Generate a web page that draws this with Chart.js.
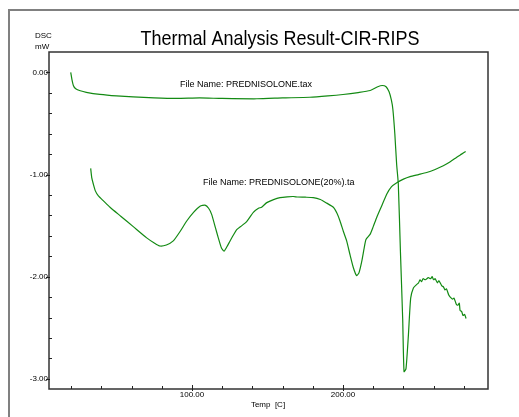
<!DOCTYPE html>
<html lang="en">
<head>
<meta charset="UTF-8">
<title>Thermal Analysis Result-CIR-RIPS</title>
<script src="https://cdn.jsdelivr.net/npm/chart.js"></script>
<style>
  html, body { margin: 0; padding: 0; background: #fff; }
  .wrap { position: relative; width: 519px; height: 417px; }
</style>
</head>
<body>
<div class="wrap"><canvas id="dsc"></canvas></div>
<script>
// PREDNISOLONE.tax
const tempA = [19.7, 20.5, 21.5, 23, 26, 30, 39, 50, 61, 75, 90, 105, 120, 143, 160, 178, 190, 200, 210, 218,
  223, 226, 228.5, 230.5, 232, 233, 234.3, 235.5, 236.6, 238, 239.5, 240.4, 241.7, 243.3, 244.8, 246.6, 248.5,
  250, 251, 252, 253, 254.5, 256.5, 258, 259, 260, 261, 262.5, 263.5, 265.4, 266.5, 267.5, 268.5, 270, 271,
  272.5, 273.5, 275, 276, 277, 277.5, 278.5, 279.5, 280.5, 281.5];
const dscA = [0.00, -0.07, -0.13, -0.16, -0.18, -0.195, -0.215, -0.23, -0.24, -0.25, -0.255, -0.25, -0.255, -0.258,
  -0.25, -0.243, -0.23, -0.216, -0.197, -0.177, -0.14, -0.128, -0.14, -0.19, -0.27, -0.36, -0.6, -0.9, -1.09,
  -1.75, -2.41, -2.93, -2.9, -2.57, -2.21, -2.11, -2.08, -2.06, -2.03, -2.05, -2.02, -2.03, -2.01, -2.02, -2.0,
  -2.03, -2.02, -2.06, -2.04, -2.09, -2.1, -2.13, -2.12, -2.18, -2.2, -2.22, -2.21, -2.27, -2.28, -2.26, -2.33,
  -2.34, -2.38, -2.37, -2.41];

// PREDNISOLONE(20%).ta
const tempB = [32.9, 33.6, 34.6, 36, 38, 41.5, 45.7, 53, 61.1, 70, 75, 78.8, 83, 87.6, 92, 96.5, 101, 105.3, 108.6,
  111, 113, 115.5, 117.4, 119.5, 121.2, 123, 125.2, 127.5, 129.6, 133, 136.2, 140.6, 144, 146.1, 149.5, 154,
  158.3, 163, 167.1, 170, 175, 180.3, 185, 189.2, 193.6, 196, 198, 200.3, 202.4, 204.7, 206.8, 209, 210.6,
  212.4, 214, 215.2, 217.9, 220, 222.3, 225.5, 229, 232, 235.6, 240, 244.4, 250, 255.4, 261, 266.4, 271,
  275.3, 278.5, 281.2];
const dscB = [-0.94, -1.03, -1.09, -1.16, -1.21, -1.26, -1.32, -1.41, -1.51, -1.62, -1.67, -1.70, -1.69, -1.65,
  -1.56, -1.455, -1.37, -1.31, -1.30, -1.33, -1.39, -1.52, -1.62, -1.72, -1.75, -1.71, -1.65, -1.59, -1.54,
  -1.50, -1.46, -1.37, -1.33, -1.32, -1.275, -1.245, -1.226, -1.218, -1.215, -1.22, -1.222, -1.226, -1.245,
  -1.28, -1.32, -1.38, -1.455, -1.56, -1.65, -1.79, -1.91, -1.99, -1.96, -1.85, -1.72, -1.635, -1.586, -1.51,
  -1.42, -1.31, -1.19, -1.12, -1.08, -1.045, -1.02, -1.00, -0.98, -0.95, -0.914, -0.875, -0.83, -0.80, -0.774];

const fileNames = ['File Name: PREDNISOLONE.tax', 'File Name: PREDNISOLONE(20%).ta'];
const xTicks = [20, 40, 60, 80, 100, 120, 140, 160, 180, 200, 220, 240, 260, 280];
const yTicks = [-3.0, -2.8, -2.6, -2.4, -2.2, -2.0, -1.8, -1.6, -1.4, -1.2, -1.0, -0.8, -0.6, -0.4, -0.2, 0.0, 0.2];

const FONT = '"Liberation Sans", Arial, sans-serif';
const GREEN = '#138a13';

const toPts = (xs, ys) => xs.map((x, i) => ({ x: x, y: ys[i] }));
const isMajor = v => Math.abs(v - Math.round(v)) < 1e-6;

// frame, title, text labels, tick marks
const decor = {
  id: 'decor',
  beforeDraw(chart) {
    const c = chart.ctx;
    c.save();
    c.fillStyle = '#fff';
    c.fillRect(0, 0, chart.width, chart.height);
    c.strokeStyle = '#808080';
    c.lineWidth = 2;
    c.beginPath();
    c.moveTo(chart.width, 10);
    c.lineTo(9, 10);
    c.lineTo(9, chart.height);
    c.stroke();
    c.restore();
  },
  afterDraw(chart) {
    const c = chart.ctx;
    const a = chart.chartArea;
    const xs = chart.scales.x, ys = chart.scales.y;
    c.save();
    // plot box
    c.strokeStyle = '#333';
    c.lineWidth = 1.5;
    c.strokeRect(a.left, a.top, a.right - a.left, a.bottom - a.top);
    // tick marks
    c.strokeStyle = '#222';
    c.lineWidth = 1;
    c.beginPath();
    yTicks.forEach(v => {
      const y = Math.round(ys.getPixelForValue(v)) + 0.5;
      if (v > 0.1) return;
      if (isMajor(v)) { c.moveTo(a.left - 3, y); c.lineTo(a.left + 1, y); }
      else { c.moveTo(a.left, y); c.lineTo(a.left + 3, y); }
    });
    xTicks.forEach(v => {
      const x = Math.round(xs.getPixelForValue(v)) + 0.5;
      if (isMajor(v / 100)) { c.moveTo(x, a.bottom - 4); c.lineTo(x, a.bottom + 2); }
      else { c.moveTo(x, a.bottom - 3); c.lineTo(x, a.bottom); }
    });
    c.stroke();
    // title
    c.fillStyle = '#000';
    c.textAlign = 'center';
    c.textBaseline = 'alphabetic';
    c.font = '18px ' + FONT;
    c.save();
    c.translate(280, 45);
    c.scale(1, 1.12);
    c.fillText('Thermal Analysis Result-CIR-RIPS', 0, 0);
    c.restore();
    // y unit
    c.font = '8px ' + FONT;
    c.textAlign = 'left';
    c.textBaseline = 'middle';
    c.fillText('DSC', 35, 36);
    c.fillText('mW', 35, 47);
    // x title
    c.textAlign = 'center';
    c.fillText('Temp  [C]', 268, 405);
    // file name notes
    c.font = '9px ' + FONT;
    c.textAlign = 'left';
    c.fillText(fileNames[0], xs.getPixelForValue(92), ys.getPixelForValue(-0.12));
    c.fillText(fileNames[1], xs.getPixelForValue(107.3), ys.getPixelForValue(-1.08));
    c.restore();
  }
};

new Chart(document.getElementById('dsc'), {
  type: 'scatter',
  data: {
    datasets: [
      { label: fileNames[0], data: toPts(tempA, dscA) },
      { label: fileNames[1], data: toPts(tempB, dscB) }
    ]
  },
  options: {
    responsive: true,
    maintainAspectRatio: false,
    animation: false,
    showLine: true,
    layout: { padding: { left: 0, top: 52, right: 31, bottom: 0 } },
    elements: {
      point: { radius: 0 },
      line: { borderColor: GREEN, borderWidth: 1.2, tension: 0.2, fill: false }
    },
    scales: {
      x: {
        type: 'linear',
        min: 5.3,
        max: 296,
        grid: { display: false, drawTicks: false },
        border: { display: false },
        afterBuildTicks: s => { s.ticks = xTicks.map(v => ({ value: v })); },
        afterFit: s => { s.height = 28; },
        ticks: {
          autoSkip: false,
          maxRotation: 0,
          padding: 1,
          color: '#000',
          font: { family: FONT, size: 8 },
          callback: v => (isMajor(v / 100) ? v.toFixed(2) : '')
        }
      },
      y: {
        min: -3.1,
        max: 0.2,
        grid: { display: false, drawTicks: false },
        border: { display: false },
        afterBuildTicks: s => { s.ticks = yTicks.map(v => ({ value: v })); },
        afterFit: s => { s.width = 49; },
        ticks: {
          autoSkip: false,
          padding: 1,
          color: '#000',
          font: { family: FONT, size: 8 },
          callback: v => (isMajor(v) && v < 0.1 ? v.toFixed(2) : '')
        }
      }
    },
    plugins: {
      legend: { display: false },
      title: { display: false },
      tooltip: { enabled: false }
    }
  },
  plugins: [decor]
});
</script>
</body>
</html>
